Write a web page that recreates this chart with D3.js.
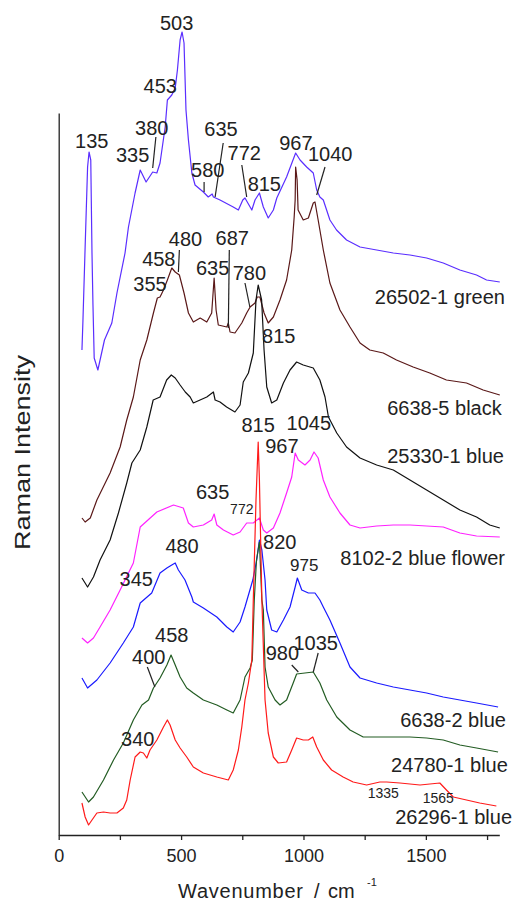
<!DOCTYPE html>
<html><head><meta charset="utf-8">
<script src="https://cdn.jsdelivr.net/npm/d3@7/dist/d3.min.js"></script>
<style>
html,body{margin:0;padding:0;background:#fff;}
svg{display:block;font-family:"Liberation Sans",Arial,sans-serif;}
</style></head>
<body>
<svg id="c" width="516" height="905"></svg>
<script>
// ---- data (wavenumber, offset intensity) ----
const s26502 = [[95,485],[99,514],[108,588],[118,668],[124,683],[131,675],[136,582],[140,530],[145,477],[160,465],[187,495],[217,512],[238,542],[271,582],[285,608],[312,642],[333,665],[357,653],[384,663],[401,662],[414,672],[435,708],[444,735],[462,740],[476,747],[485,765],[496,795],[504,803],[512,792],[520,725],[530,695],[544,662],[557,650],[591,643],[611,638],[627,641],[632,638],[659,635],[713,628],[734,625],[752,635],[761,637],[789,625],[802,635],[820,642],[836,628],[856,617],[877,625],[891,637],[931,658],[968,682],[986,675],[1013,668],[1040,662],[1054,645],[1067,638],[1081,635],[1108,615],[1135,605],[1176,595],[1231,588],[1299,585],[1367,582],[1435,580],[1503,577],[1571,572],[1639,565],[1707,560],[1748,555],[1802,553]];
const s6638_5 = [[95,317],[108,313],[129,317],[156,335],[210,362],[251,388],[278,415],[305,438],[333,475],[360,495],[387,522],[403,537],[414,538],[428,545],[444,555],[462,567],[476,563],[493,560],[512,542],[530,522],[550,513],[578,517],[605,513],[625,522],[635,557],[643,525],[652,510],[687,508],[693,512],[700,503],[720,502],[748,512],[768,522],[782,528],[802,532],[811,538],[822,538],[839,522],[856,512],[877,518],[904,535],[931,555],[952,585],[962,618],[966,635],[968,668],[974,655],[978,625],[999,615],[1020,617],[1040,632],[1047,633],[1060,615],[1081,585],[1108,552],[1149,525],[1190,508],[1231,492],[1271,485],[1326,482],[1380,475],[1448,468],[1516,462],[1584,455],[1666,452],[1734,445],[1802,440]];
const s25330 = [[95,257],[118,248],[142,258],[169,275],[210,295],[244,322],[278,352],[299,372],[333,385],[360,408],[386,435],[414,438],[441,455],[460,460],[476,457],[496,450],[517,443],[537,438],[550,432],[605,438],[632,443],[639,435],[659,433],[686,428],[720,423],[741,430],[754,453],[775,462],[795,482],[806,535],[815,550],[829,535],[839,485],[850,448],[870,432],[891,435],[918,452],[945,465],[972,473],[999,470],[1040,467],[1067,455],[1088,438],[1102,418],[1136,402],[1176,388],[1231,377],[1299,370],[1367,365],[1435,355],[1503,345],[1571,335],[1639,325],[1707,318],[1761,310],[1802,307]];
const s8102 = [[95,197],[118,192],[142,197],[169,208],[210,225],[251,245],[285,262],[305,272],[333,308],[401,323],[469,330],[509,327],[530,312],[550,308],[591,310],[625,315],[635,321],[646,310],[673,305],[713,300],[741,303],[768,312],[795,312],[820,317],[836,305],[850,302],[877,307],[904,322],[931,342],[952,358],[966,382],[979,375],[1006,370],[1027,375],[1043,383],[1060,377],[1081,355],[1108,338],[1149,322],[1190,310],[1231,307],[1299,309],[1367,310],[1435,310],[1503,309],[1571,308],[1639,302],[1707,299],[1802,298]];
const s6638_2 = [[95,157],[118,147],[156,155],[210,172],[264,192],[305,208],[333,232],[380,242],[414,262],[442,267],[462,270],[476,272],[489,265],[516,255],[544,238],[550,233],[591,227],[646,218],[687,208],[713,203],[741,213],[761,228],[793,255],[809,275],[820,295],[830,285],[843,255],[850,225],[870,205],[891,203],[918,215],[945,228],[966,248],[975,257],[993,245],[1020,242],[1047,242],[1067,235],[1081,228],[1108,215],[1149,192],[1190,168],[1231,157],[1299,152],[1367,148],[1435,145],[1503,142],[1571,138],[1639,135],[1707,132],[1795,128]];
const s24780 = [[95,43],[122,33],[142,38],[183,55],[224,75],[264,92],[305,115],[340,130],[367,135],[387,147],[414,157],[442,170],[459,180],[476,170],[496,158],[523,147],[550,142],[591,135],[646,130],[687,125],[713,122],[741,135],[761,158],[782,167],[791,175],[799,235],[808,275],[820,293],[830,235],[836,225],[843,168],[856,148],[884,135],[904,130],[931,135],[958,152],[972,161],[1006,162],[1040,163],[1067,152],[1095,135],[1136,118],[1190,105],[1244,98],[1312,98],[1367,98],[1435,98],[1503,97],[1571,95],[1639,90],[1707,87],[1795,83]];
const s26296 = [[95,32],[108,18],[122,10],[136,15],[156,22],[183,23],[210,22],[238,22],[264,27],[278,35],[292,55],[312,78],[333,83],[346,82],[360,77],[373,85],[401,95],[428,108],[444,115],[455,110],[476,95],[496,87],[523,78],[550,68],[591,62],[646,58],[693,55],[713,65],[734,85],[748,108],[761,135],[775,152],[789,175],[795,235],[806,335],[815,393],[820,355],[830,235],[843,135],[856,102],[877,78],[897,72],[931,73],[952,85],[972,97],[999,95],[1020,95],[1038,98],[1054,88],[1081,75],[1115,65],[1162,58],[1203,53],[1258,50],[1312,53],[1340,53],[1394,52],[1476,50],[1557,52],[1584,45],[1612,38],[1666,35],[1720,32],[1788,29]];

const seriesNames  = ["26502-1 green","6638-5 black","25330-1 blue","8102-2 blue flower","6638-2 blue","24780-1 blue","26296-1 blue"];
const seriesData   = [s26502, s6638_5, s25330, s8102, s6638_2, s24780, s26296];
const seriesColors = ["#5a2eff","#5a1818","#111111","#ff22ff","#1a1aff","#235c23","#ff1a1a"];
// sample name label anchors (right end wavenumber, intensity)
const nameAnchors  = [[1823,531],[1810,420],[1819,372],[1823,270],[1827,108],[1835,63],[1852,11]];

// peak labels: text, wavenumber, intensity, font size
const peakLabels = [
  ["503",482,805,20],["453",415,742,20],["380",380,700,20],["335",302,673,20],["135",135,687,20],
  ["635",663,699,20],["580",609,658,20],["772",758,675,20],["815",840,644,20],["967",969,685,20],["1040",1109,674,20],
  ["480",518,589,20],["458",409,569,20],["355",373,544,20],["687",709,590,20],["635",629,560,20],["780",779,555,20],
  ["815",899,492,20],
  ["815",815,403,20],["1045",1022,405,20],["967",912,382,20],["635",629,336,20],["772",748,321,14],
  ["820",903,286,20],["480",504,282,20],["975",1003,264,17],["345",317,249,20],
  ["458",462,193,20],["400",368,171,20],["980",914,175,20],["1035",1050,185,20],
  ["340",323,89,20],["1335",1326,37,14],["1565",1551,32,14]
];
// leader lines: wn1, i1, wn2, i2
const leaders = [
  [397,698,384,667],[672,692,639,638],[594,653,594,643],[748,670,768,638],[1088,668,1054,640],
  [493,585,489,563],[697,585,693,507],[761,552,781,528],
  [362,168,393,148],[952,170,979,163],[1060,182,1040,163]
];
const xTicks = [0,250,500,750,1000,1250,1500,1750];

// ---- drawing ----
const svg = d3.select("#c");
const x = d3.scaleLinear().domain([0,1800]).range([58.7,499.3]);
const y = d3.scaleLinear().domain([0,722]).range([835,113]);

const line = d3.line().x(d=>x(d[0])).y(d=>y(d[1]));

// axes
const xAxis = d3.axisBottom(x).tickValues(xTicks)
  .tickFormat(d => d % 500 === 0 ? d : "").tickSize(5).tickSizeOuter(0).tickPadding(9);
const gx = svg.append("g").attr("transform","translate(0,835)").call(xAxis);
gx.selectAll("text").attr("font-size",18).attr("fill","#222").attr("font-family","Liberation Sans, Arial, sans-serif");
gx.selectAll("line,path").attr("stroke","#222").attr("stroke-width",1.3);

const yAxis = d3.axisLeft(y).tickValues([]).tickSizeOuter(0);
const gy = svg.append("g").attr("transform","translate(58.7,0)").call(yAxis);
gy.selectAll("path").attr("stroke","#222").attr("stroke-width",1.3);

// axis titles
const xt = svg.append("text").attr("x",178).attr("y",898).attr("font-size",20).attr("fill","#222");
xt.append("tspan").text("Wavenumber").attr("textLength",125);
xt.append("tspan").attr("x",314).text("/");
xt.append("tspan").attr("x",328).text("cm");
xt.append("tspan").attr("x",367).attr("y",886).attr("font-size",11).text("-1");

svg.append("text").attr("transform","translate(30,452.5) rotate(-90)")
  .attr("text-anchor","middle").attr("font-size",22).attr("fill","#222")
  .attr("textLength",195).attr("lengthAdjust","spacingAndGlyphs").text("Raman Intensity");

// spectra
svg.append("g").selectAll("path").data(seriesData).join("path")
  .attr("d", line).attr("fill","none")
  .attr("stroke",(d,i)=>seriesColors[i]).attr("stroke-width",1.2).attr("stroke-linejoin","round");

// sample names
svg.append("g").selectAll("text").data(seriesNames).join("text")
  .attr("x",(d,i)=>x(nameAnchors[i][0])).attr("y",(d,i)=>y(nameAnchors[i][1]))
  .attr("text-anchor","end").attr("font-size",20).attr("fill","#222").text(d=>d);

// leaders
svg.append("g").selectAll("line").data(leaders).join("line")
  .attr("x1",d=>x(d[0])).attr("y1",d=>y(d[1])).attr("x2",d=>x(d[2])).attr("y2",d=>y(d[3]))
  .attr("stroke","#222").attr("stroke-width",1.2);

// peak labels
svg.append("g").selectAll("text").data(peakLabels).join("text")
  .attr("x",d=>x(d[1])).attr("y",d=>y(d[2])).attr("text-anchor","middle")
  .attr("font-size",d=>d[3]).attr("fill","#222").text(d=>d[0]);
</script>
</body></html>
